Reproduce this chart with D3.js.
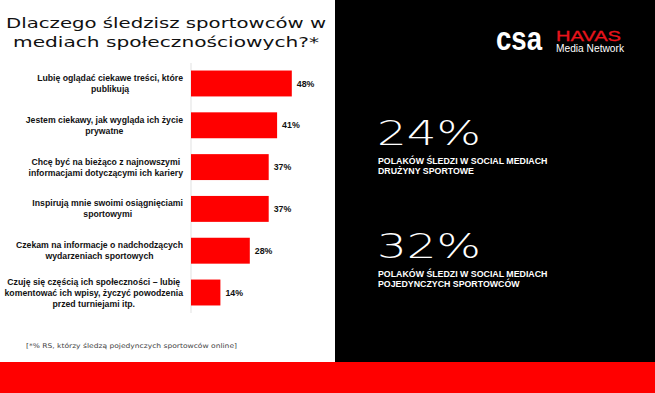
<!DOCTYPE html>
<html>
<head>
<meta charset="utf-8">
<script src="https://cdn.jsdelivr.net/npm/d3@7"></script>
<style>
  html, body { margin: 0; padding: 0; background: #fff; }
  svg { display: block; }
</style>
</head>
<body>
<div id="chart"></div>
<script>
const reasons = [
    "Lubię oglądać ciekawe treści, które\npublikują",
    "Jestem ciekawy, jak wygląda ich życie\nprywatne",
    "Chcę być na bieżąco z najnowszymi\ninformacjami dotyczącymi ich kariery",
    "Inspirują mnie swoimi osiągnięciami\nsportowymi",
    "Czekam na informacje o nadchodzących\nwydarzeniach sportowych",
    "Czuję się częścią ich społeczności – lubię\nkomentować ich wpisy, życzyć powodzenia\nprzed turniejami itp."
];
const shares = [48, 41, 37, 37, 28, 14];

const titleLines = ["Dlaczego śledzisz sportowców w", "mediach społecznościowych?*"];
const footnote = "[*% RS, którzy śledzą pojedynczych sportowców online]";

const statValues = ["24%", "32%"];
const statLabels = [
    "POLAKÓW ŚLEDZI W SOCIAL MEDIACH\nDRUŻYNY SPORTOWE",
    "POLAKÓW ŚLEDZI W SOCIAL MEDIACH\nPOJEDYNCZYCH SPORTOWCÓW"
];

const width = 655, height = 393;
const red = "#ff0000";

const svg = d3.select("#chart").append("svg")
    .attr("width", width)
    .attr("height", height);

// tła
svg.append("rect").attr("width", width).attr("height", height).attr("fill", "#fff");
svg.append("rect").attr("x", 335).attr("y", 0).attr("width", width - 335).attr("height", 363).attr("fill", "#000");
svg.append("rect").attr("x", 0).attr("y", 362).attr("width", width).attr("height", height - 362).attr("fill", red);

// tytuł
svg.append("g").selectAll("text")
    .data(titleLines)
    .join("text")
    .attr("x", 166)
    .attr("y", (d, i) => 28 + i * 19)
    .attr("text-anchor", "middle")
    .attr("font-family", "DejaVu Sans")
    .attr("font-size", 14.5)
    .attr("fill", "#111")
    .attr("textLength", (d, i) => i === 0 ? 320 : 306)
    .attr("lengthAdjust", "spacingAndGlyphs")
    .text(d => d);

// skale
const x = d3.scaleLinear().domain([0, 100]).range([191, 401]);
const y = d3.scaleBand()
    .domain(reasons)
    .range([63, 313])
    .paddingInner(0.38)
    .paddingOuter(0.18);

svg.append("line")
    .attr("x1", x(0)).attr("x2", x(0))
    .attr("y1", 63).attr("y2", 313)
    .attr("stroke", "#d9d9d9")
    .attr("stroke-width", 0.8);

svg.append("g").selectAll("rect")
    .data(reasons)
    .join("rect")
    .attr("x", x(0))
    .attr("y", d => y(d))
    .attr("width", (d, i) => x(shares[i]) - x(0))
    .attr("height", y.bandwidth())
    .attr("fill", red);

svg.append("g").selectAll("text")
    .data(reasons)
    .join("text")
    .attr("x", (d, i) => x(shares[i]) + 5)
    .attr("y", d => y(d) + y.bandwidth() / 2)
    .attr("dy", "0.35em")
    .attr("font-family", "Liberation Sans")
    .attr("font-weight", "bold")
    .attr("font-size", 8.8)
    .attr("fill", "#111")
    .text((d, i) => shares[i] + "%");

// etykiety kategorii: linie wyśrodkowane, blok wyrównany do prawej
const labelRight = 183;
const labels = svg.append("g").selectAll("g")
    .data(reasons)
    .join("g");

labels.each(function(d) {
    const g = d3.select(this);
    const lines = d.split("\n");
    const cy = y(d) + y.bandwidth() / 2;
    const t = g.selectAll("text")
        .data(lines)
        .join("text")
        .attr("y", (l, i) => cy + (i - (lines.length - 1) / 2) * 11)
        .attr("dy", "0.35em")
        .attr("text-anchor", "middle")
        .attr("font-family", "Liberation Sans")
        .attr("font-weight", "bold")
        .attr("font-size", 8.7)
        .attr("fill", "#111")
        .text(l => l);
    let maxW = 0;
    t.each(function() { maxW = Math.max(maxW, this.getComputedTextLength()); });
    t.attr("x", labelRight - maxW / 2);
});

// przypis
svg.append("text")
    .attr("x", 26)
    .attr("y", 348)
    .attr("font-family", "DejaVu Sans")
    .attr("font-size", 6.5)
    .attr("fill", "#444")
    .attr("textLength", 211)
    .attr("lengthAdjust", "spacingAndGlyphs")
    .text(footnote);

// logo
svg.append("text")
    .attr("x", 496).attr("y", 50)
    .attr("font-family", "Liberation Sans")
    .attr("font-weight", "bold")
    .attr("font-size", 33)
    .attr("fill", "#fff")
    .attr("textLength", 46)
    .attr("lengthAdjust", "spacingAndGlyphs")
    .text("csa");
svg.append("text")
    .attr("x", 556).attr("y", 40.5)
    .attr("font-family", "Liberation Sans")
    .attr("font-size", 14)
    .attr("fill", "#e8141c")
    .attr("stroke", "#e8141c")
    .attr("stroke-width", 0.3)
    .attr("textLength", 65)
    .attr("lengthAdjust", "spacingAndGlyphs")
    .text("HAVAS");
svg.append("text")
    .attr("x", 556).attr("y", 52)
    .attr("font-family", "Liberation Sans")
    .attr("font-size", 10)
    .attr("fill", "#fff")
    .attr("textLength", 68)
    .attr("lengthAdjust", "spacingAndGlyphs")
    .text("Media Network");

// statystyki
const statTop = [145, 258];
statValues.forEach((v, i) => {
    svg.append("text")
        .attr("x", 377).attr("y", statTop[i])
        .attr("font-family", "DejaVu Sans")
        .attr("font-weight", 200)
        .attr("font-size", 34)
        .attr("fill", "#fff")
        .attr("textLength", 104)
        .attr("lengthAdjust", "spacingAndGlyphs")
        .text(v);
    svg.append("g").selectAll("text")
        .data(statLabels[i].split("\n"))
        .join("text")
        .attr("x", 378)
        .attr("y", (l, j) => statTop[i] + 19 + j * 9.5)
        .attr("font-family", "Liberation Sans")
        .attr("font-weight", "bold")
        .attr("font-size", 8.8)
        .attr("fill", "#fff")
        .text(l => l);
});
</script>
</body>
</html>
